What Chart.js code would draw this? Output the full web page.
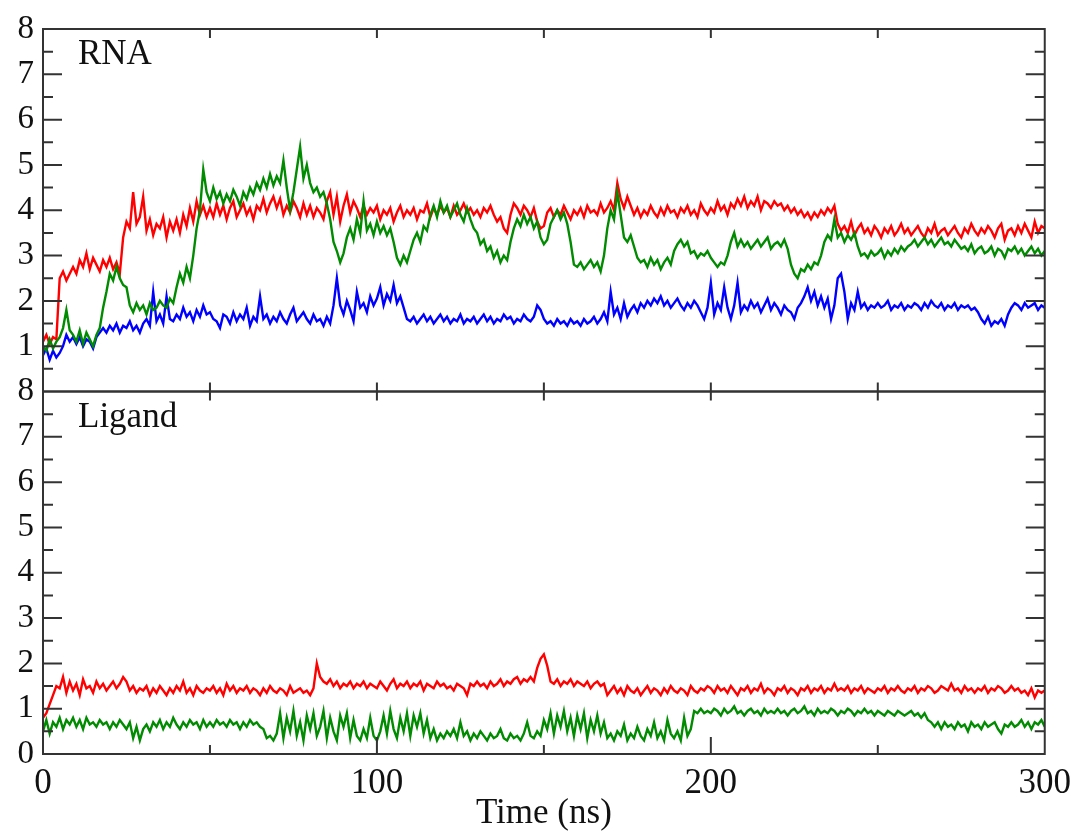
<!DOCTYPE html>
<html>
<head>
<meta charset="utf-8">
<script src="https://cdn.jsdelivr.net/npm/chart.js@4.4.1/dist/chart.umd.min.js"></script>
<style>
  html, body { margin: 0; padding: 0; background: #fff; }
  #wrap { width: 1080px; height: 835px; }
</style>
</head>
<body>
<div id="wrap"><canvas id="myChart" width="1080" height="835"></canvas></div>
<script>
// sampling grid, 1 ns steps
const timeNs = Array.from({ length: 301 }, (_, i) => i);

// RNA panel
const rnaRed = [
  1.1, 1.25, 1.05, 1.2, 1.15, 2.5, 2.65, 2.45, 2.6, 2.75,
  2.6, 2.9, 2.75, 3.05, 2.7, 2.95, 2.8, 2.65, 2.9, 2.75,
  2.95, 2.7, 2.85, 2.6, 3.4, 3.75, 3.6, 4.4, 3.7, 3.85,
  4.3, 3.55, 3.8, 3.45, 3.7, 3.6, 3.85, 3.4, 3.75, 3.55,
  3.8, 3.5, 3.9, 3.65, 4.05, 3.75, 4.2, 3.9, 4.1, 3.85,
  4.05, 3.85, 4.15, 3.9, 4.1, 3.8, 4.05, 4.2, 3.85, 4.0,
  4.15, 3.9, 4.05, 3.8, 4.1, 4.0, 4.25, 3.95, 4.15, 4.3,
  4.05, 4.25, 3.9, 4.1, 3.95, 4.2, 4.05, 3.85, 4.15, 3.9,
  4.1, 3.85, 4.05, 3.95, 3.8, 4.2, 4.4, 3.9, 4.3, 3.75,
  4.1, 4.35, 3.95, 4.2, 4.05, 3.85, 4.1, 3.9, 4.05, 3.95,
  4.1, 3.8, 4.0, 3.9, 4.05, 3.75, 3.95, 4.1, 3.85, 4.0,
  3.9, 4.05, 3.8, 4.0, 3.95, 4.15, 3.85, 4.05, 3.9, 4.1,
  3.95, 4.05, 3.85, 4.1, 3.9, 4.0, 4.15, 3.95, 4.05, 3.9,
  4.0, 3.85, 4.05, 3.95, 4.1, 3.9, 3.75, 3.85, 3.6, 3.5,
  3.9, 4.15, 4.05, 3.9, 4.1, 4.0, 3.85, 4.05, 3.75, 3.6,
  3.65, 3.95, 4.05, 3.85, 4.0, 3.9, 4.1, 3.95, 3.8, 4.0,
  3.9, 4.05, 3.85, 4.1, 3.95, 4.0, 3.9, 4.15, 3.95, 4.05,
  4.2, 4.0, 4.6, 4.25, 4.05, 4.3, 4.1, 3.9, 4.05, 3.85,
  4.0, 3.9, 4.1, 3.95, 3.85, 4.05, 3.9, 4.1, 3.95, 4.0,
  3.85, 4.05, 3.95, 4.1, 3.9, 4.0, 3.85, 4.15, 4.0, 3.9,
  4.05, 3.95, 4.2, 4.0, 4.1, 3.9, 4.15, 4.05, 4.25, 4.1,
  4.3, 4.05, 4.2, 4.1, 4.3, 4.0, 4.2, 4.15, 4.05, 4.2,
  4.1, 4.15, 4.0, 4.1, 3.95, 4.05, 3.9, 4.0, 3.85, 3.95,
  3.8, 3.95, 3.85, 4.0, 3.9, 4.05, 3.95, 4.1, 3.7, 3.55,
  3.65, 3.5, 3.75, 3.45, 3.6, 3.7, 3.5, 3.6, 3.45, 3.65,
  3.55, 3.4, 3.6, 3.5, 3.65, 3.45, 3.55, 3.7, 3.5, 3.6,
  3.45, 3.55, 3.65, 3.5, 3.4, 3.6, 3.5, 3.7, 3.45, 3.55,
  3.6, 3.45, 3.55, 3.65, 3.5, 3.4, 3.6, 3.5, 3.7, 3.55,
  3.45, 3.6, 3.5, 3.65, 3.55, 3.4, 3.6, 3.7, 3.35, 3.55,
  3.6, 3.45, 3.65, 3.5, 3.7, 3.55, 3.4, 3.75, 3.5, 3.65,
  3.6
];
const rnaGreen = [
  1.0, 0.9, 1.15, 0.95, 1.1, 1.2, 1.4, 1.8, 1.35, 1.25,
  1.1, 1.35, 1.05, 1.3, 1.15, 1.0, 1.25, 1.4, 1.85, 2.2,
  2.6, 2.45, 2.75, 2.5, 2.35, 2.3, 1.9, 1.75, 1.95, 1.8,
  1.9, 1.7, 1.95, 1.8, 1.85, 2.0, 1.9, 1.85, 2.05, 1.95,
  2.3, 2.6, 2.4, 2.75, 2.5, 3.0, 3.6, 4.0, 4.9, 4.4,
  4.2, 4.5, 4.25, 4.4, 4.15, 4.35, 4.2, 4.45, 4.3, 4.1,
  4.4, 4.25, 4.5, 4.35, 4.6, 4.45, 4.7, 4.5, 4.8, 4.55,
  4.75, 4.6, 5.1, 4.5, 4.0, 4.4, 4.9, 5.4, 4.7, 5.0,
  4.6, 4.4, 4.5, 4.3, 4.4, 4.15, 3.8, 3.3, 3.1, 2.85,
  3.05, 3.4, 3.6, 3.35, 3.8, 3.5, 4.2, 3.55, 3.7, 3.45,
  3.75, 3.5, 3.65, 3.45, 3.6, 3.3, 2.95, 2.8, 3.0, 2.85,
  3.1, 3.35, 3.5, 3.3, 3.65, 3.55, 3.9, 4.1, 3.85, 4.2,
  3.95, 4.1, 3.85, 4.0, 4.15, 3.9, 3.75, 4.05, 3.8, 3.6,
  3.5, 3.25, 3.35, 3.1, 3.2, 2.95, 3.1, 2.85, 3.0, 2.9,
  3.3, 3.6, 3.8, 3.65, 3.9, 3.7, 3.85, 3.6, 3.75, 3.4,
  3.25, 3.35, 3.7, 3.85, 4.0, 3.8, 3.95, 3.7, 3.3, 2.8,
  2.75, 2.85, 2.7, 2.8, 2.9, 2.75, 2.85, 2.65, 3.0, 3.6,
  4.0, 3.8, 4.4, 3.9, 3.4, 3.3, 3.45, 3.2, 2.95, 2.85,
  2.9, 2.75, 2.95, 2.8, 2.9, 2.7, 2.85, 2.95, 2.8, 3.1,
  3.25, 3.35, 3.2, 3.3, 3.05, 3.1, 2.95, 3.05, 3.0, 3.1,
  2.95, 2.85, 2.75, 2.85, 2.8, 3.0, 3.3, 3.5, 3.2, 3.35,
  3.2, 3.3, 3.15, 3.25, 3.35, 3.2, 3.3, 3.4, 3.15, 3.25,
  3.3, 3.2, 3.35, 3.15, 2.8, 2.6, 2.5, 2.7, 2.65, 2.8,
  2.7, 2.85, 2.8, 3.0, 3.3, 3.45, 3.35, 3.8, 3.4, 3.5,
  3.3, 3.45, 3.35, 3.5, 3.2, 3.0, 3.05, 2.95, 3.1, 3.0,
  3.05, 3.15, 2.95, 3.1, 3.0, 3.15, 3.05, 3.2, 3.1, 3.2,
  3.25, 3.35, 3.2, 3.3, 3.4, 3.25, 3.35, 3.2, 3.3, 3.4,
  3.25, 3.3, 3.2, 3.35, 3.25, 3.15, 3.2, 3.1, 3.25, 3.05,
  3.15, 3.2, 3.05, 3.1, 3.2, 3.0, 3.15, 3.1, 2.95, 3.15,
  3.1, 3.2, 3.05, 3.15, 3.0, 3.1, 3.2, 3.05, 3.15, 3.0,
  3.1
];
const rnaBlue = [
  0.8, 0.95, 0.7, 0.9, 0.75, 0.85, 1.0, 1.25, 1.1, 1.2,
  1.05, 1.2, 1.0, 1.15, 1.1, 0.95, 1.2, 1.3, 1.4, 1.3,
  1.45, 1.35, 1.5, 1.3, 1.45, 1.4, 1.55, 1.35, 1.45, 1.3,
  1.5, 1.6, 1.45, 2.2, 1.55, 1.7, 1.5, 2.1, 1.6, 1.55,
  1.7, 1.6, 1.85, 1.65, 1.75, 1.55, 1.8, 1.65, 1.9, 1.7,
  1.75, 1.6, 1.55, 1.4, 1.7, 1.65, 1.5, 1.75, 1.55, 1.7,
  1.6, 1.85, 1.45, 1.65, 1.55, 2.1, 1.6, 1.7, 1.5, 1.65,
  1.55, 1.75, 1.6, 1.5, 1.7, 1.85, 1.55, 1.65, 1.75, 1.6,
  1.5, 1.7, 1.55, 1.6, 1.45, 1.65, 1.5, 1.9, 2.5, 1.9,
  1.7, 2.0, 1.8, 1.55, 2.2, 1.85, 1.95, 1.75, 2.1, 1.9,
  2.05, 2.3, 1.9, 2.15, 2.0, 2.35, 1.95, 2.1, 1.85, 1.6,
  1.55, 1.65, 1.5, 1.6, 1.7, 1.55, 1.65, 1.5, 1.6, 1.7,
  1.55, 1.65, 1.5, 1.6, 1.55, 1.7, 1.5, 1.6, 1.55, 1.65,
  1.5, 1.6, 1.7, 1.55, 1.65, 1.5, 1.6, 1.55, 1.7, 1.6,
  1.65, 1.5, 1.6, 1.55, 1.7, 1.6, 1.55, 1.65, 1.9, 1.8,
  1.6, 1.5, 1.55, 1.45, 1.6, 1.5, 1.55, 1.45, 1.6, 1.5,
  1.55, 1.45, 1.6, 1.5, 1.55, 1.65, 1.5, 1.6, 1.75, 1.55,
  2.2, 1.7, 1.85, 1.6, 1.95, 1.65, 1.8, 1.9, 1.75, 1.95,
  1.85, 2.0, 1.9, 2.05, 1.95, 2.1, 1.9, 2.0, 1.85, 1.95,
  2.05, 1.9, 1.8, 1.95, 1.85, 2.0, 1.9, 1.75, 1.6, 1.85,
  2.4, 1.7, 1.95, 1.8, 2.3, 1.85, 1.6, 1.9, 2.4, 1.75,
  1.9, 1.8, 2.0, 1.85, 1.95, 1.75, 1.9, 2.05, 1.8, 1.95,
  1.85, 1.7, 1.9, 1.8, 1.75, 1.6, 1.85, 1.95, 2.1, 2.3,
  2.0, 2.2, 1.9, 2.1, 1.85, 2.05, 1.6, 1.9, 2.5, 2.6,
  2.2, 1.6, 1.95, 1.8, 2.2, 1.85, 1.95, 1.8, 1.9, 1.85,
  1.95, 1.85, 1.9, 2.0, 1.8, 1.9, 1.85, 1.95, 1.8, 1.9,
  1.85, 1.95, 1.9, 1.8, 1.95, 1.85, 2.0, 1.9, 1.85, 1.95,
  1.8, 1.9, 1.85, 1.95, 1.8, 1.9, 1.85, 1.9, 1.8, 1.85,
  1.75, 1.6, 1.5, 1.65, 1.45, 1.55, 1.5, 1.6, 1.45, 1.7,
  1.85, 1.95, 1.9, 1.8, 1.95, 1.85, 1.9, 1.95, 1.8, 1.9,
  1.85
];

// Ligand panel
const ligRed = [
  0.8, 0.9, 1.1, 1.3, 1.5, 1.45, 1.7, 1.35, 1.6, 1.4,
  1.55, 1.3, 1.65, 1.45, 1.5, 1.35, 1.6, 1.45, 1.55, 1.4,
  1.5, 1.6, 1.45, 1.55, 1.7, 1.6, 1.4, 1.5, 1.35, 1.45,
  1.4, 1.5, 1.3, 1.45, 1.35, 1.5, 1.4, 1.3, 1.45, 1.35,
  1.5, 1.4, 1.6, 1.35, 1.45, 1.3, 1.5, 1.4, 1.35, 1.45,
  1.4, 1.5, 1.35, 1.45, 1.3, 1.55, 1.4, 1.5, 1.35, 1.45,
  1.4, 1.5, 1.35, 1.45, 1.4, 1.3, 1.45, 1.35, 1.5, 1.4,
  1.35, 1.45, 1.4, 1.3, 1.5, 1.35, 1.4, 1.45, 1.35, 1.4,
  1.3, 1.45, 2.0, 1.7, 1.6, 1.55, 1.65, 1.5, 1.6, 1.45,
  1.55, 1.5, 1.6, 1.45, 1.55, 1.5, 1.6, 1.45, 1.55, 1.5,
  1.45, 1.6, 1.5, 1.4, 1.55, 1.65, 1.45, 1.55, 1.5, 1.6,
  1.45, 1.55, 1.5, 1.6, 1.4, 1.55, 1.5, 1.45, 1.6, 1.5,
  1.55, 1.45, 1.5, 1.4, 1.55, 1.5, 1.45, 1.3, 1.55, 1.5,
  1.6, 1.5, 1.55, 1.45, 1.6, 1.5, 1.55, 1.65, 1.5, 1.6,
  1.55, 1.65, 1.7, 1.55, 1.65, 1.6, 1.7, 1.6, 1.9, 2.1,
  2.2, 1.95, 1.6, 1.55, 1.65, 1.5, 1.6, 1.55, 1.65, 1.5,
  1.6, 1.55, 1.5, 1.6, 1.45, 1.55, 1.6, 1.5, 1.55, 1.3,
  1.4, 1.5, 1.35, 1.45, 1.3, 1.5, 1.4, 1.35, 1.45, 1.3,
  1.4, 1.5, 1.35, 1.45, 1.4, 1.3, 1.45, 1.35, 1.5, 1.4,
  1.35, 1.45, 1.4, 1.3, 1.5, 1.4, 1.35, 1.45, 1.4, 1.5,
  1.45, 1.35, 1.5, 1.4, 1.45, 1.35, 1.5, 1.4, 1.3, 1.45,
  1.4, 1.5, 1.35, 1.45, 1.4, 1.55, 1.35, 1.45, 1.4, 1.3,
  1.45, 1.4, 1.5, 1.35, 1.45, 1.4, 1.3, 1.45, 1.4, 1.5,
  1.35, 1.45, 1.4, 1.5, 1.35, 1.45, 1.4, 1.55, 1.4, 1.45,
  1.4, 1.5, 1.35, 1.45, 1.4, 1.5, 1.35, 1.45, 1.4, 1.35,
  1.45, 1.4, 1.5, 1.35, 1.45, 1.4, 1.5, 1.4, 1.35, 1.45,
  1.4, 1.5, 1.35, 1.45, 1.4, 1.5, 1.45, 1.35, 1.4, 1.5,
  1.45, 1.4, 1.55, 1.4, 1.45, 1.35, 1.5, 1.4, 1.45, 1.35,
  1.45, 1.4, 1.5, 1.35, 1.45, 1.4, 1.5, 1.45, 1.35, 1.4,
  1.5, 1.4, 1.45, 1.35, 1.4, 1.3, 1.45, 1.25, 1.4, 1.35,
  1.4
];
const ligGreen = [
  0.5, 0.75, 0.45, 0.7, 0.6, 0.8, 0.55, 0.75, 0.65, 0.8,
  0.6, 0.75, 0.55, 0.8, 0.65, 0.7, 0.6, 0.75, 0.65, 0.7,
  0.55, 0.7, 0.6, 0.75, 0.65, 0.55, 0.7, 0.35, 0.6, 0.3,
  0.55, 0.65, 0.5, 0.7, 0.6, 0.75, 0.55, 0.7, 0.6, 0.8,
  0.65, 0.55, 0.7, 0.6, 0.75, 0.65, 0.7, 0.55, 0.75, 0.6,
  0.7, 0.6, 0.75, 0.65, 0.7, 0.6, 0.75, 0.65, 0.7, 0.55,
  0.7, 0.6, 0.75, 0.65, 0.7, 0.6, 0.55, 0.35, 0.4, 0.3,
  0.45, 0.9, 0.35, 0.8, 0.5, 0.95, 0.4, 0.7, 0.3, 0.85,
  0.55, 0.9, 0.4, 0.6, 0.95, 0.35, 0.8, 0.5, 0.3, 0.85,
  0.6, 0.9, 0.35, 0.75, 0.4, 0.3, 0.55, 0.35, 0.8, 0.4,
  0.3, 0.5, 0.85, 0.45, 0.95, 0.55, 0.35, 0.8, 0.5, 0.9,
  0.4, 0.85, 0.6, 0.9, 0.45, 0.75, 0.35, 0.55, 0.3, 0.45,
  0.35, 0.5, 0.4, 0.55, 0.35, 0.7, 0.4, 0.5, 0.3, 0.45,
  0.35, 0.5, 0.4, 0.3, 0.45, 0.35, 0.4, 0.55, 0.35, 0.3,
  0.45, 0.35, 0.4, 0.3, 0.45, 0.7, 0.4, 0.35, 0.5, 0.4,
  0.75, 0.55, 0.9, 0.45, 0.85, 0.6, 0.95, 0.5, 0.8, 0.4,
  0.85, 0.55, 0.9, 0.35, 0.75, 0.5, 0.85, 0.45, 0.7, 0.35,
  0.45, 0.3, 0.5, 0.4, 0.65, 0.3, 0.45, 0.35, 0.6, 0.4,
  0.3, 0.55, 0.4, 0.7, 0.35, 0.5, 0.3, 0.75, 0.45, 0.35,
  0.5, 0.3, 0.8, 0.4, 0.55, 0.95, 0.9, 1.0, 0.9, 0.95,
  0.9, 1.0, 0.95, 0.85, 1.0, 0.9, 0.95, 1.05, 0.9, 0.95,
  0.85, 0.95, 1.0, 0.9, 0.95, 0.85, 1.0, 0.9, 0.95, 0.9,
  1.0, 0.9, 0.95, 0.85, 0.95, 1.0, 0.9, 0.95, 1.05, 0.9,
  0.95, 0.85, 1.0, 0.9, 0.95, 0.9, 1.0, 0.95, 0.85, 0.95,
  0.9, 1.0, 0.95, 0.85, 0.95, 0.9, 1.0, 0.9, 0.95, 0.85,
  0.95, 0.9, 0.85, 0.95, 0.9, 0.85, 0.95, 0.9, 0.85, 0.9,
  0.95, 0.85, 0.9, 0.8, 0.9, 0.75, 0.7, 0.6, 0.7, 0.55,
  0.7, 0.6, 0.65, 0.55, 0.7, 0.6, 0.65, 0.5, 0.7, 0.6,
  0.65, 0.55, 0.7, 0.6, 0.65, 0.7, 0.55, 0.45, 0.65, 0.6,
  0.7, 0.6, 0.65, 0.75, 0.6, 0.7, 0.55, 0.7, 0.65, 0.75,
  0.6
];

// axes / ticks
const xMajorTicks = [0, 100, 200, 300];
const xMinorTicks = [50, 150, 250];
const yMajorTicks = [1, 2, 3, 4, 5, 6, 7];
const yMinorTicks = [0.5, 1.5, 2.5, 3.5, 4.5, 5.5, 6.5, 7.5];
const panelLabels = ["RNA", "Ligand"];

const RED = "#ff0000";
const GREEN = "#008b00";
const BLUE = "#0000ff";
const FONT = "'Liberation Serif', 'Times New Roman', serif";

const toPoints = (values) => values.map((v, i) => ({ x: timeNs[i], y: v }));

const series = (data, color, axis) => ({
  data: toPoints(data),
  borderColor: color,
  borderWidth: 2.4,
  pointRadius: 0,
  tension: 0,
  yAxisID: axis,
});

const framePlugin = {
  id: "frame",
  afterDatasetsDraw(chart) {
    const { ctx } = chart;
    const x = chart.scales.x;
    const panels = [chart.scales.yRna, chart.scales.yLig];
    ctx.save();
    ctx.strokeStyle = "#333";
    ctx.lineWidth = 2;
    panels.forEach((y, idx) => {
      ctx.strokeRect(x.left, y.top, x.right - x.left, y.bottom - y.top);
      ctx.beginPath();
      yMajorTicks.concat(yMinorTicks).forEach((v) => {
        const py = y.getPixelForValue(v);
        const len = Number.isInteger(v) ? 19 : 10;
        ctx.moveTo(x.left, py);
        ctx.lineTo(x.left + len, py);
        ctx.moveTo(x.right, py);
        ctx.lineTo(x.right - len, py);
      });
      xMajorTicks.concat(xMinorTicks).forEach((t) => {
        if (t === 0 || t === 300) return;
        const px = x.getPixelForValue(t);
        const bottomLen = idx === 1 && t % 100 === 0 ? 17 : 9;
        ctx.moveTo(px, y.top);
        ctx.lineTo(px, y.top + 9);
        ctx.moveTo(px, y.bottom);
        ctx.lineTo(px, y.bottom - bottomLen);
      });
      ctx.stroke();

      ctx.fillStyle = "#111";
      ctx.font = "35px " + FONT;
      ctx.textAlign = "left";
      ctx.textBaseline = "alphabetic";
      ctx.fillText(panelLabels[idx], 78, y.top + 35);
    });
    ctx.restore();
  },
};

const yAxis = (hideZero) => ({
  type: "linear",
  position: "left",
  stack: "panels",
  stackWeight: 1,
  min: 0,
  max: 8,
  grid: { display: false, drawTicks: false },
  border: { display: false },
  ticks: {
    stepSize: 1,
    autoSkip: false,
    padding: 9,
    color: "#111",
    font: { family: FONT, size: 33 },
    callback: (v) => (hideZero && v === 0 ? "" : v),
  },
  afterFit: (scale) => {
    scale.width = 43;
  },
});

const ctx = document.getElementById("myChart").getContext("2d");
const myChart = new Chart(ctx, {
  type: "line",
  data: {
    datasets: [
      series(rnaGreen, GREEN, "yRna"),
      series(rnaRed, RED, "yRna"),
      series(rnaBlue, BLUE, "yRna"),
      series(ligGreen, GREEN, "yLig"),
      series(ligRed, RED, "yLig"),
    ],
  },
  options: {
    responsive: false,
    animation: false,
    layout: { padding: { left: 0, right: 33, top: 29, bottom: 0 } },
    plugins: {
      legend: { display: false },
      tooltip: { enabled: false },
    },
    scales: {
      x: {
        type: "linear",
        min: 0,
        max: 300,
        grid: { display: false, drawTicks: false },
        border: { display: false },
        ticks: {
          stepSize: 100,
          autoSkip: false,
          padding: 9,
          color: "#111",
          font: { family: FONT, size: 35 },
          maxRotation: 0,
        },
        title: {
          display: true,
          text: "Time (ns)",
          color: "#111",
          font: { family: FONT, size: 35 },
          padding: { top: 0, bottom: 0 },
        },
        afterFit: (scale) => {
          scale.height = 81;
        },
      },
      yLig: yAxis(false),
      yRna: yAxis(true),
    },
  },
  plugins: [framePlugin],
});
</script>
</body>
</html>
